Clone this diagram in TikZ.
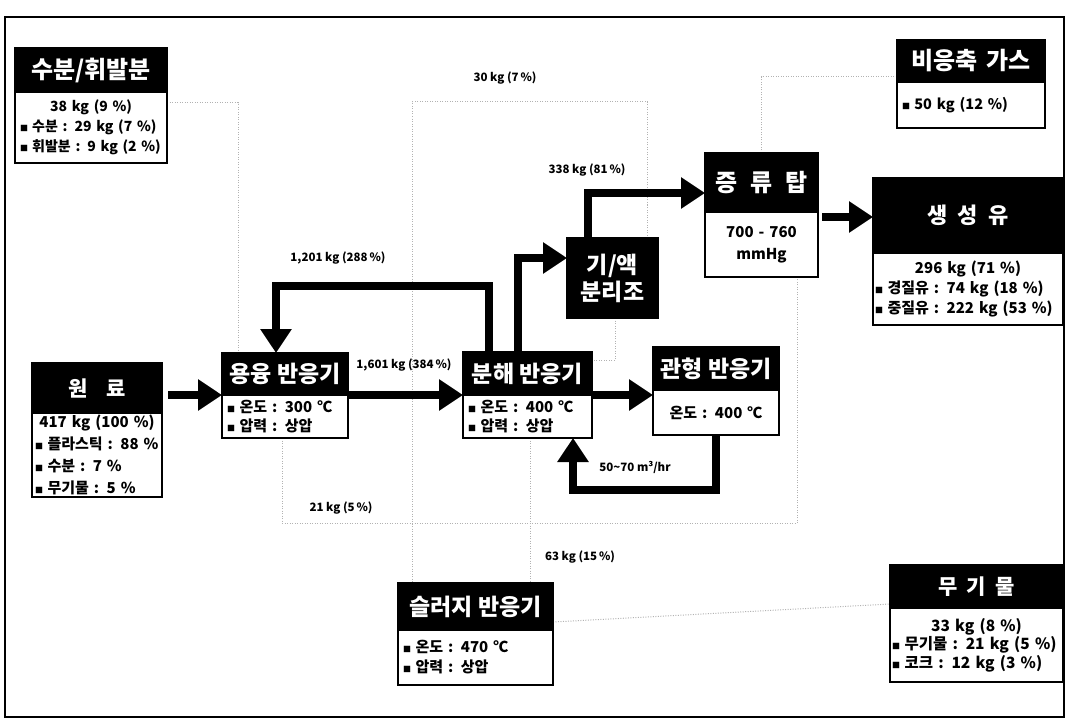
\documentclass[tikz,border=0pt]{standalone}
\usepackage{fontspec}
\setmainfont{Noto Sans CJK KR}
\usetikzlibrary{arrows.meta,positioning,calc,backgrounds}

\newcommand{\fs}[2]{\fontsize{#1}{#2}\selectfont}
\newcommand{\bsq}{{\fontsize{8}{8}\selectfont ■}\hspace{0.3em}}

\begin{document}
\begin{tikzpicture}[x=1pt, y=-1pt,
    head/.style={fill=black, draw=black, line width=1.5pt, text=white, inner sep=0pt,
                 outer sep=0pt, anchor=north west},
    body/.style={draw=black, line width=1.5pt, fill=white, inner xsep=5pt, inner ysep=0pt,
                 outer sep=0pt, anchor=north, align=left, font=\bfseries\fs{14}{20}},
    flow/.style={line width=8pt, -{Triangle[length=24pt, width=30pt]}},
    aux/.style={gray!60, line width=1pt, dash pattern=on 1pt off 1.5pt},
    lbl/.style={font=\bfseries\fs{11.5}{12}, inner sep=1pt},
]
\useasboundingbox (0,0) rectangle (1070,722);
\draw[line width=1.5pt] (5,17) rectangle (1064,717);

% Water / volatiles
\node[head, minimum width=152pt, minimum height=44pt, font=\bfseries\fs{24}{24}] (wv) at (15,48) {수분/휘발분};
\node[body, minimum width=152pt, minimum height=71pt, text width=142pt] (wv-b) at (wv.south)
    {\hfill 38 kg (9 \%)\hfill\null\\ \bsq 수분 : 29 kg (7 \%)\\ \bsq 휘발분 : 9 kg (2 \%)};

% Non-condensable gas
\node[head, minimum width=148pt, minimum height=42pt, font=\bfseries\fs{24}{24}] (ncg) at (897,40)
    {비응축\hspace{0.4em}가스};
\node[body, minimum width=148pt, minimum height=46pt, text width=138pt, font=\bfseries\fs{14.5}{20}] (ncg-b) at (ncg.south)
    {\bsq 50 kg (12 \%)};

% Distillation column
\node[head, minimum width=113pt, minimum height=59pt, font=\bfseries\fs{24}{24}] (dist) at (705,153)
    {증\hspace{0.55em}류\hspace{0.55em}탑};
\node[body, minimum width=113pt, minimum height=65pt, text width=103pt, align=center,
      font=\bfseries\fs{15}{22}] (dist-b) at (dist.south) {700 - 760\\ mmHg};

% Gas/liquid separator
\node[head, minimum width=91pt, minimum height=80pt, align=center, font=\bfseries\fs{23}{27}] (sep) at (567,238)
    {기/액\\분리조};

% Product oil
\node[head, minimum width=190pt, minimum height=75pt, font=\bfseries\fs{22}{22}] (oil) at (873,178)
    {생\hspace{0.45em}성\hspace{0.45em}유};
\node[body, minimum width=190pt, minimum height=72pt, text width=186pt, inner xsep=2pt,
      font=\bfseries\fs{15}{20}] (oil-b) at (oil.south)
    {\hfill 296 kg (71 \%)\hfill\null\\ \bsq 경질유 : 74 kg (18 \%)\\ \bsq 중질유 : 222~kg (53~\%)};

% Raw material
\node[head, minimum width=130pt, minimum height=50pt, font=\bfseries\fs{21}{21}] (raw) at (32,363) {원\hspace{0.9em}료};
\node[body, minimum width=130pt, minimum height=84pt, text width=124pt, inner xsep=3pt,
      font=\bfseries\fs{15}{22}] (raw-b) at (raw.south)
    {\hfill 417 kg (100 \%)\hfill\null\\ \bsq 플라스틱 : 88 \%\\ \bsq 수분 : 7 \%\\ \bsq 무기물 : 5 \%};

% Melting reactor
\node[head, minimum width=126pt, minimum height=42pt, font=\bfseries\fs{23}{23}] (melt) at (222,353) {용융 반응기};
\node[body, minimum width=126pt, minimum height=43pt, text width=116pt, font=\bfseries\fs{15}{19}] (melt-b) at (melt.south)
    {\bsq 온도 : 300 ℃\\ \bsq 압력 : 상압};

% Cracking reactor
\node[head, minimum width=129pt, minimum height=43pt, font=\bfseries\fs{23}{23}] (crack) at (463,352) {분해 반응기};
\node[body, minimum width=129pt, minimum height=43pt, text width=119pt, font=\bfseries\fs{15}{19}] (crack-b) at (crack.south)
    {\bsq 온도 : 400 ℃\\ \bsq 압력 : 상압};

% Tubular reactor
\node[head, minimum width=126pt, minimum height=43pt, font=\bfseries\fs{23}{23}] (tube) at (653,347) {관형 반응기};
\node[body, minimum width=126pt, minimum height=45pt, text width=116pt, align=center, font=\bfseries\fs{15}{19}] (tube-b) at (tube.south)
    {온도 : 400 ℃};

% Sludge reactor
\node[head, minimum width=155pt, minimum height=47pt, font=\bfseries\fs{23}{23}] (sludge) at (398,583) {슬러지 반응기};
\node[body, minimum width=155pt, minimum height=55pt, text width=145pt, font=\bfseries\fs{15}{20}] (sludge-b) at (sludge.south)
    {\bsq 온도 : 470 ℃\\ \bsq 압력 : 상압};

% Inorganics
\node[head, minimum width=173pt, minimum height=43pt, font=\bfseries\fs{21}{21}] (inorg) at (890,565)
    {무\hspace{0.45em}기\hspace{0.45em}물};
\node[body, minimum width=173pt, minimum height=74pt, text width=169pt, inner xsep=2pt,
      font=\bfseries\fs{15.5}{18.5}] (inorg-b) at (inorg.south)
    {\hfill 33 kg (8 \%)\hfill\null\\ \bsq 무기물 : 21 kg (5 \%)\\ \bsq 코크 : 12 kg (3 \%)};

% Main flows
\draw[flow, shorten <=6pt] (raw.east |- melt.south west) -- (melt.south west);
\draw[flow] (melt.south east) -- (crack.south west);
\draw[flow] (crack.south east) -- (crack.south east -| tube.west);
\draw[flow] ($(crack.north west)+(26,0)$) -- ++(0,-66) -| ($(melt.north west)+(54,0)$);
\draw[flow] ($(crack.north west)+(55,0)$) |- ($(sep.north west)+(0,20)$);
\draw[flow] ($(sep.north west)+(21,0)$) |- ($(dist.north west)+(0,40)$);
\coordinate (d-out) at ($(dist.south east)+(0,5)$);
\draw[flow, shorten <=4pt] (d-out) -- (d-out -| oil.west);
\draw[flow] (tube-b.south) -- ++(0,55) -| ($(crack-b.south west)+(110,0)$);

% Side streams (dotted)
\begin{scope}[on background layer]
\coordinate (g-top) at (412,102);
\coordinate (g-bot) at (282,523);
\coordinate (c-dn) at ($(crack-b.south west)+(67,0)$);
\draw[aux] ($(wv-b.north east)+(0,11)$) -| ($(melt.north west)+(16,0)$);
\draw[aux] ($(sep.north west)+(80,0)$) |- (g-top) -- (g-top |- sludge.north);
\draw[aux] (dist.north) |- ($(ncg.south west)+(0,-5)$);
\draw[aux] ($(melt-b.south west)+(60,0)$) -- (g-bot) -| ($(dist-b.south west)+(92,0)$);
\draw[aux] (c-dn) -- (c-dn |- sludge.north);
\draw[aux] ($(sep.south west)+(48,0)$) |- ($(crack.north east)+(0,8)$);
\draw[aux] ($(sludge.south east)+(0,-8)$) -- ($(inorg.south west)+(0,-4)$);
\end{scope}

% Flow labels
\node[lbl] (l-gas) at (505,78) {30 kg (7\,\%)};
\node[lbl] (l-vap) at (587,170) {338 kg (81\,\%)};
\node[lbl] (l-rec) at (338,258) {1,201 kg (288\,\%)};
\node[lbl] (l-melt) at (404,365) {1,601 kg (384\,\%)};
\node[lbl] (l-s1) at (341,508) {21 kg (5\,\%)};
\node[lbl] (l-s2) at (580,557) {63 kg (15\,\%)};
\node[lbl] (l-rate) at (635,467) {50\textasciitilde 70 m³/hr};
\end{tikzpicture}
\end{document}
